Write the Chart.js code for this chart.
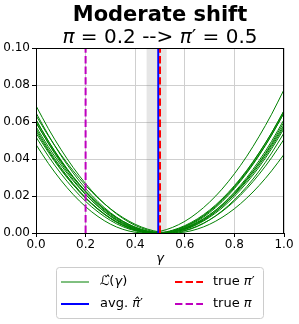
<!DOCTYPE html>
<html><head><meta charset="utf-8">
<script src="https://cdn.jsdelivr.net/npm/chart.js@4"></script>
<style>html,body{margin:0;padding:0;background:#fff}#wrap{width:299px;height:324px;position:relative}</style>
</head><body><div id="wrap"><canvas id="c" width="299" height="324"></canvas></div>
<script>
// ---- data ----
const gammaGrid = [0.00,0.05,0.10,0.15,0.20,0.25,0.30,0.35,0.40,0.45,0.50,0.55,0.60,0.65,0.70,0.75,0.80,0.85,0.90,0.95,1.00];
const lossA = [0.0478,0.0376,0.0286,0.0208,0.0142,0.0089,0.0048,0.0020,0.0004,0.0000,0.0009,0.0030,0.0063,0.0109,0.0167,0.0237,0.0320,0.0415,0.0523,0.0642,0.0775];
const lossB = [0.0519,0.0415,0.0322,0.0241,0.0171,0.0114,0.0068,0.0034,0.0012,0.0001,0.0002,0.0015,0.0040,0.0076,0.0124,0.0184,0.0256,0.0339,0.0435,0.0541,0.0660];
const lossC = [0.0553,0.0444,0.0347,0.0261,0.0188,0.0127,0.0078,0.0041,0.0015,0.0002,0.0001,0.0012,0.0035,0.0069,0.0116,0.0175,0.0246,0.0329,0.0423,0.0530,0.0649];
const lossD = [0.0600,0.0484,0.0380,0.0289,0.0210,0.0144,0.0090,0.0049,0.0020,0.0004,0.0000,0.0009,0.0030,0.0064,0.0110,0.0169,0.0240,0.0324,0.0420,0.0529,0.0650];
const lossE = [0.0540,0.0436,0.0342,0.0260,0.0189,0.0130,0.0081,0.0044,0.0018,0.0004,0.0000,0.0008,0.0027,0.0058,0.0099,0.0152,0.0216,0.0292,0.0378,0.0476,0.0585];
const lossF = [0.0575,0.0466,0.0368,0.0282,0.0207,0.0144,0.0092,0.0052,0.0023,0.0006,0.0000,0.0006,0.0023,0.0052,0.0092,0.0144,0.0207,0.0282,0.0368,0.0466,0.0575];
const lossG = [0.0650,0.0529,0.0420,0.0324,0.0240,0.0169,0.0110,0.0064,0.0030,0.0009,0.0000,0.0004,0.0020,0.0049,0.0090,0.0144,0.0210,0.0289,0.0380,0.0484,0.0600];
const lossH = [0.0595,0.0486,0.0388,0.0301,0.0225,0.0160,0.0106,0.0064,0.0032,0.0011,0.0001,0.0002,0.0014,0.0037,0.0071,0.0116,0.0172,0.0240,0.0318,0.0407,0.0507];
const lossI = [0.0688,0.0564,0.0453,0.0354,0.0267,0.0192,0.0130,0.0079,0.0041,0.0016,0.0002,0.0001,0.0012,0.0035,0.0071,0.0119,0.0179,0.0251,0.0335,0.0432,0.0541];
const lossJ = [0.0635,0.0525,0.0425,0.0336,0.0257,0.0189,0.0131,0.0084,0.0047,0.0021,0.0005,0.0000,0.0005,0.0021,0.0047,0.0084,0.0131,0.0189,0.0257,0.0336,0.0425];
const lossK = [0.0613,0.0496,0.0392,0.0300,0.0221,0.0153,0.0098,0.0055,0.0025,0.0006,0.0000,0.0006,0.0025,0.0055,0.0098,0.0153,0.0221,0.0300,0.0392,0.0496,0.0613];
const lossL = [0.0564,0.0453,0.0354,0.0267,0.0192,0.0130,0.0079,0.0041,0.0016,0.0002,0.0001,0.0012,0.0035,0.0071,0.0119,0.0179,0.0251,0.0335,0.0432,0.0541,0.0662];
const lossM = [0.0611,0.0497,0.0395,0.0305,0.0226,0.0159,0.0104,0.0060,0.0028,0.0008,0.0000,0.0004,0.0019,0.0046,0.0085,0.0135,0.0198,0.0272,0.0357,0.0455,0.0564];
const lossCurves = [lossA,lossB,lossC,lossD,lossE,lossF,lossG,lossH,lossI,lossJ,lossK,lossL,lossM];
const avgPiHat = 0.493;
const piHatBand = [0.446, 0.527];
const truePiPrime = 0.5;
const truePi = 0.2;
const xTicks = [0.0,0.2,0.4,0.6,0.8,1.0];
const yTicks = [0.00,0.02,0.04,0.06,0.08,0.10];
const yRange = [0.0, 0.10];

// ---- styles ----
const FONT = "'DejaVu Sans', sans-serif";
const GREEN = '#008000', BLUE = '#0000ff', RED = '#ff0000', MAG = '#bf00bf';
const DASH = [7.4, 3.2];

function vline(x){ return [{x:x,y:yRange[0]},{x:x,y:yRange[1]}]; }

const datasets = [
  {data: vline(truePiPrime), borderColor: RED, borderWidth: 2, borderDash: DASH},
  {data: vline(truePi), borderColor: MAG, borderWidth: 2, borderDash: DASH},
  {data: vline(avgPiHat), borderColor: BLUE, borderWidth: 2},
];
lossCurves.forEach(c => datasets.push({
  data: gammaGrid.map((g,i)=>({x:g,y:c[i]})),
  borderColor: GREEN, borderWidth: 1, cubicInterpolationMode: 'monotone'
}));
datasets.forEach(d => { d.pointRadius = 0; d.fill = false; });

function drawSegs(ctx, segs, cx, y){
  let total = 0;
  segs.forEach(s => { ctx.font = s.f; s.w = ctx.measureText(s.t).width; total += s.w; });
  let x = cx - total/2;
  ctx.textAlign = 'left';
  segs.forEach(s => { ctx.font = s.f; ctx.fillText(s.t, x, y); x += s.w; });
}
function drawSegsLeft(ctx, segs, x, y){
  ctx.textAlign = 'left';
  segs.forEach(s => { ctx.font = s.f; ctx.fillText(s.t, x, y); x += ctx.measureText(s.t).width; });
}

const decor = {
  id: 'decor',
  beforeDatasetsDraw(chart){
    const {ctx, chartArea: a, scales: {x}} = chart;
    const x0 = x.getPixelForValue(piHatBand[0]), x1 = x.getPixelForValue(piHatBand[1]);
    ctx.save();
    ctx.fillStyle = 'rgba(128,128,128,0.2)';
    ctx.fillRect(x0, a.top, x1 - x0, a.bottom - a.top);
    ctx.restore();
  },
  afterDatasetsDraw(chart){
    const {ctx, chartArea: a} = chart;
    ctx.save();
    ctx.strokeStyle = '#000'; ctx.lineWidth = 1;
    ctx.strokeRect(Math.round(a.left)+0.5, Math.round(a.top)+0.5, Math.round(a.right-a.left)-1, Math.round(a.bottom-a.top));
    ctx.restore();
  },
  afterDraw(chart){
    const {ctx, chartArea: a} = chart;
    const cx = (a.left + a.right)/2;
    ctx.save();
    ctx.fillStyle = '#000';
    ctx.textBaseline = 'alphabetic';
    ctx.textAlign = 'center';
    ctx.font = "bold 21px " + FONT;
    ctx.fillText('Moderate shift', cx, 21);
    const N = "20px " + FONT, I = "oblique 20px " + FONT;
    drawSegs(ctx, [
      {t:'π', f:I}, {t:' = 0.2 --> ', f:N}, {t:'π', f:I}, {t:'′', f:N}, {t:' = 0.5', f:N}
    ], cx, 43);
    // x-axis title
    ctx.font = "oblique 13px " + FONT;
    ctx.textAlign = 'center';
    ctx.fillText('γ', cx, 262);
    // legend
    const lx = 56.5, ly = 267.5, lw = 207, lh = 51, r = 3;
    ctx.beginPath();
    ctx.moveTo(lx+r, ly); ctx.lineTo(lx+lw-r, ly); ctx.arcTo(lx+lw, ly, lx+lw, ly+r, r);
    ctx.lineTo(lx+lw, ly+lh-r); ctx.arcTo(lx+lw, ly+lh, lx+lw-r, ly+lh, r);
    ctx.lineTo(lx+r, ly+lh); ctx.arcTo(lx, ly+lh, lx, ly+lh-r, r);
    ctx.lineTo(lx, ly+r); ctx.arcTo(lx, ly, lx+r, ly, r); ctx.closePath();
    ctx.fillStyle = 'rgba(255,255,255,0.8)'; ctx.fill();
    ctx.strokeStyle = '#cccccc'; ctx.lineWidth = 1; ctx.stroke();
    const items = [
      {c:GREEN, w:1, d:[], x:61, y:282},
      {c:BLUE, w:2, d:[], x:61, y:304},
      {c:RED, w:2, d:DASH, x:175, y:282},
      {c:MAG, w:2, d:DASH, x:175, y:304},
    ];
    items.forEach(it => {
      ctx.beginPath(); ctx.setLineDash(it.d); ctx.strokeStyle = it.c; ctx.lineWidth = it.w;
      ctx.moveTo(it.x, it.y); ctx.lineTo(it.x+28, it.y); ctx.stroke();
    });
    ctx.setLineDash([]);
    ctx.fillStyle = '#000';
    ctx.textBaseline = 'middle';
    const LN = "13px " + FONT, LI = "oblique 13px " + FONT;
    drawSegsLeft(ctx, [{t:'ℒ̂', f:LI}, {t:'(', f:LN}, {t:'γ', f:LI}, {t:')', f:LN}], 100, 282);
    drawSegsLeft(ctx, [{t:'avg. ', f:LN}, {t:'π̂', f:LI}, {t:'′', f:LN}], 100, 304);
    drawSegsLeft(ctx, [{t:'true ', f:LN}, {t:'π', f:LI}, {t:'′', f:LN}], 213, 282);
    drawSegsLeft(ctx, [{t:'true ', f:LN}, {t:'π', f:LI}], 213, 304);
    ctx.restore();
  }
};

new Chart(document.getElementById('c'), {
  type: 'line',
  data: {datasets},
  options: {
    responsive: false, animation: false, devicePixelRatio: 1,
    layout: {padding: {top: 48, right: 15, left: 0, bottom: 0}},
    plugins: {legend: {display: false}, tooltip: {enabled: false}},
    elements: {line: {tension: 0}},
    scales: {
      x: {
        type: 'linear', min: 0, max: 1,
        afterBuildTicks: s => { s.ticks = xTicks.map(v => ({value: v})); },
        afterFit: s => { s.height = 91; },
        ticks: {callback: v => v.toFixed(1), color: '#000', font: {family: FONT, size: 12}, padding: 1, maxRotation: 0, autoSkip: false},
        grid: {color: '#cfcfcf', tickColor: '#000', tickLength: 4, lineWidth: 1},
        border: {color: '#000', width: 1}
      },
      y: {
        type: 'linear', min: yRange[0], max: yRange[1],
        afterBuildTicks: s => { s.ticks = yTicks.map(v => ({value: v})); },
        afterFit: s => { s.width = 36; },
        ticks: {callback: v => v.toFixed(2), color: '#000', font: {family: FONT, size: 12}, padding: 2, autoSkip: false},
        grid: {color: '#cfcfcf', tickColor: '#000', tickLength: 4, lineWidth: 1},
        border: {color: '#000', width: 1}
      }
    }
  },
  plugins: [decor]
});
</script></body></html>
